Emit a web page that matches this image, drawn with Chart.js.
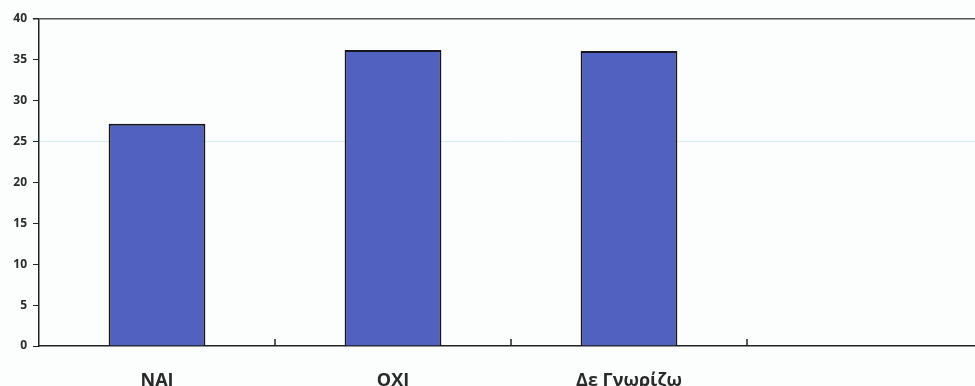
<!DOCTYPE html>
<html>
<head>
<meta charset="utf-8">
<script src="https://cdn.jsdelivr.net/npm/chart.js@4/dist/chart.umd.min.js"></script>
<style>
    html, body { margin: 0; padding: 0; background: #fcfdfd; overflow: hidden; }
    #wrap { width: 990px; height: 386px; }
</style>
</head>
<body>
<div id="wrap"><canvas id="answers" width="990" height="386"></canvas></div>
<script>
const categories = ["ΝΑΙ", "ΟΧΙ", "Δε Γνωρίζω", ""];
const percentages = [27.2, 36.2, 36.1, null];
const yTicks = [0, 5, 10, 15, 20, 25, 30, 35, 40];

// short upward marks between the categories, sitting on the baseline
const categoryTicks = {
    id: "categoryTicks",
    afterDatasetsDraw(chart) {
        const x = chart.scales.x;
        const ctx = chart.ctx;
        const bottom = chart.chartArea.bottom;
        ctx.save();
        ctx.strokeStyle = "#222";
        ctx.lineWidth = 1.5;
        for (let i = 0; i < categories.length - 1; i++) {
            const px = (x.getPixelForValue(i) + x.getPixelForValue(i + 1)) / 2;
            ctx.beginPath();
            ctx.moveTo(px, bottom);
            ctx.lineTo(px, bottom - 7);
            ctx.stroke();
        }
        ctx.restore();
    }
};

new Chart(document.getElementById("answers"), {
    type: "bar",
    data: {
        labels: categories,
        datasets: [{
            data: percentages,
            backgroundColor: "#5161bf",
            borderColor: "#16161f",
            borderWidth: 2,
            barPercentage: 0.41,
            categoryPercentage: 1
        }]
    },
    options: {
        responsive: false,
        animation: false,
        layout: { padding: { top: 19, right: 7, left: 0, bottom: 0 } },
        plugins: { legend: { display: false }, tooltip: { enabled: false } },
        scales: {
            x: {
                afterFit(scale) { scale.height = 40; },
                border: { color: "#222", width: 1.5 },
                grid: { display: false, drawTicks: false },
                ticks: {
                    padding: 24,
                    color: "#2a2a2a",
                    font: { family: "Open Sans", size: 18, weight: "bold" }
                }
            },
            y: {
                min: 0,
                max: 40,
                afterFit(scale) { scale.width = 39; },
                afterBuildTicks(scale) { scale.ticks = yTicks.map(v => ({ value: v })); },
                border: { color: "#222", width: 1.5 },
                grid: {
                    color: ctx => ctx.tick.value === 40 ? "#555" : (ctx.tick.value === 25 ? "#d6eeef" : "rgba(0,0,0,0)"),
                    tickColor: "#222",
                    tickLength: 6,
                    lineWidth: ctx => ctx.tick.value === 40 ? 1.5 : 1
                },
                ticks: {
                    padding: 6,
                    color: "#2a2a2a",
                    font: { family: "Open Sans", size: 12, weight: "bold" }
                }
            }
        }
    },
    plugins: [categoryTicks]
});
</script>
</body>
</html>
